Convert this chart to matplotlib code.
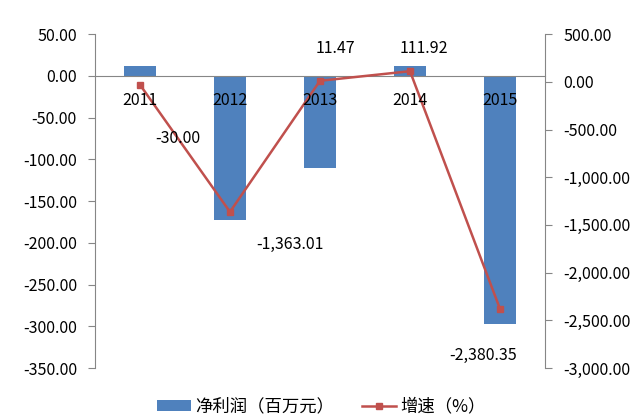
import matplotlib.pyplot as plt
import numpy as np
from matplotlib.ticker import FuncFormatter, FixedLocator

plt.rcParams['font.family'] = ['Noto Sans CJK SC', 'DejaVu Sans']
plt.rcParams['axes.unicode_minus'] = False

years = ['2011', '2012', '2013', '2014', '2015']
profit = [12.0, -173.0, -110.0, 12.0, -297.0]
growth = [-30.00, -1363.01, 11.47, 111.92, -2380.35]
growth_labels = ['-30.00', '-1,363.01', '11.47', '111.92', '-2,380.35']
# label offsets in pixels, as placed in the picture
label_offsets = [(38, -54), (60, -33), (15, 32), (14, 23), (-17, -47)]

bar_color = '#4F81BD'
line_color = '#C0504D'
axis_gray = '#868686'

fig = plt.figure(figsize=(6.33, 4.17), dpi=100)
ax1 = fig.add_axes([0.150, 0.1175, 0.711, 0.8005])
ax2 = ax1.twinx()

x = np.arange(len(years))
b = ax1.bar(x, profit, width=0.35, color=bar_color, zorder=2)
ln, = ax2.plot(x, growth, color=line_color, lw=1.8, marker='s', ms=5, zorder=3)

ax1.set_xlim(-0.5, 4.5)
ax1.set_ylim(-350, 50)
ax2.set_ylim(-3000, 500)
ax1.set_yticks(np.arange(-350, 51, 50))
ax2.set_yticks(np.arange(-3000, 501, 500))
ax1.yaxis.set_major_formatter(FuncFormatter(lambda v, p: f'{v:.2f}'))
ax2.yaxis.set_major_formatter(FuncFormatter(lambda v, p: f'{v:,.2f}'))

for ax in (ax1, ax2):
    ax.spines['top'].set_visible(False)
    ax.spines['bottom'].set_visible(False)
    ax.spines['left'].set_color(axis_gray)
    ax.spines['right'].set_color(axis_gray)
ax2.spines['left'].set_visible(False)
ax1.spines['right'].set_visible(False)
ax1.spines['bottom'].set_visible(True)
ax1.spines['bottom'].set_position(('data', 0))
ax1.spines['bottom'].set_color(axis_gray)

ax1.tick_params(axis='y', colors=axis_gray, labelcolor='black', labelsize=11.5, length=5, pad=8)
ax2.tick_params(axis='y', colors=axis_gray, labelcolor='black', labelsize=11.5, length=5, pad=8)

# category boundaries as ticks; names drawn on top of the bars
ax1.xaxis.set_major_locator(FixedLocator([0.5, 1.5, 2.5, 3.5]))
ax1.xaxis.set_major_formatter(FuncFormatter(lambda v, p: ''))
ax1.tick_params(axis='x', which='major', colors=axis_gray, length=5, direction='out')
ax2.set_xticks([])
for xi, yr in zip(x, years):
    ax2.annotate(yr, (xi, 0), xycoords=ax1.transData, xytext=(0, -25),
                 textcoords='offset pixels', ha='center', va='center', fontsize=11.5)

for xi, yi, t, off in zip(x, growth, growth_labels, label_offsets):
    ax2.annotate(t, (xi, yi), xytext=off, textcoords='offset pixels',
                 ha='center', va='center', fontsize=11.5)

fig.legend([b, ln], ['净利润（百万元）', '增速（%）'], loc='center',
           bbox_to_anchor=(0.507, 0.025), ncol=2, frameon=False, fontsize=12.5,
           handlelength=2.0, handleheight=0.6, columnspacing=1.6, handletextpad=0.2)

fig.savefig('out.png', dpi=100)
